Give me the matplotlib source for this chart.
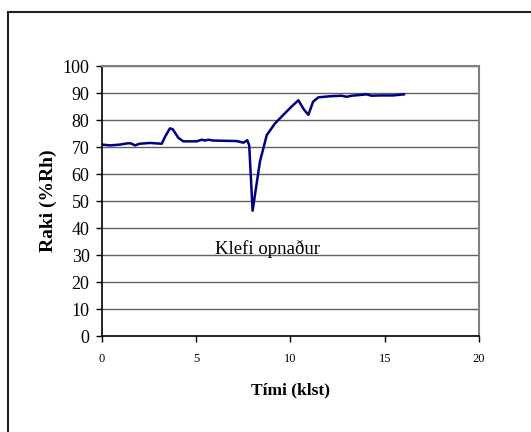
import matplotlib
matplotlib.use("Agg")
import matplotlib.pyplot as plt
from matplotlib.lines import Line2D

# humidity in the cabinet over time
time_h = [0.0, 0.42, 0.95, 1.4, 1.55, 1.75, 1.98, 2.55, 3.17, 3.34, 3.6, 3.75,
          4.05, 4.31, 5.02, 5.29, 5.46, 5.64, 5.9, 7.15, 7.5, 7.71, 7.81, 7.99,
          8.38, 8.74, 9.18, 9.62, 10.06, 10.42, 10.7, 10.95, 11.2, 11.48, 12.1,
          12.7, 12.98, 13.25, 14.04, 14.3, 14.75, 15.45, 16.02]
humidity = [70.9, 70.6, 70.9, 71.4, 71.3, 70.6, 71.2, 71.5, 71.2, 73.7, 76.9, 76.6,
            73.4, 72.1, 72.1, 72.7, 72.4, 72.7, 72.4, 72.2, 71.6, 72.5, 70.6, 46.4,
            64.6, 74.4, 78.75, 81.9, 85.0, 87.3, 84.0, 81.9, 86.8, 88.4, 88.8,
            89.0, 88.6, 89.0, 89.5, 89.0, 89.1, 89.1, 89.5]

yticks = list(range(0, 101, 10))
xticks = [0, 5, 10, 15, 20]

serif = ["Liberation Serif", "DejaVu Serif"]

fig = plt.figure(figsize=(5.31, 4.32), dpi=100)
ax = fig.add_axes([0.1921, 0.2222, 0.7099, 0.625])

ax.plot(time_h, humidity, color="#000080", lw=1.8)
ax.set_xlim(0, 20)
ax.set_ylim(0, 100)
ax.set_xticks(xticks)
ax.set_yticks(yticks)
ax.yaxis.grid(True, color="#606060", lw=1.0)
ax.set_axisbelow(True)

for s in ["top", "right"]:
    ax.spines[s].set_color("#808080")
    ax.spines[s].set_linewidth(1.5)
for s in ["left", "bottom"]:
    ax.spines[s].set_color("black")
    ax.spines[s].set_linewidth(1.2)

ax.tick_params(axis="y", direction="out", length=4, width=1, pad=5)
ax.tick_params(axis="x", direction="out", length=4, width=1, pad=8)
for lab in ax.get_yticklabels():
    lab.set_fontfamily(serif)
    lab.set_fontsize(13)
for lab in ax.get_xticklabels():
    lab.set_fontfamily(serif)
    lab.set_fontsize(9)

ax.set_ylabel("Raki (%Rh)", family=serif, fontsize=14, fontweight="bold", labelpad=4)
ax.set_xlabel("Tími (klst)", family=serif, fontsize=12.5, fontweight="bold", labelpad=13)

ax.text(6.0, 30.5, "Klefi opnaður", family=serif, fontsize=13.5)

# outer frame (top and left only are visible)
fig.add_artist(Line2D([8/531, 1.0], [1 - 12/432, 1 - 12/432], color="#202020", lw=1.5,
                      transform=fig.transFigure))
fig.add_artist(Line2D([8/531, 8/531], [0.0, 1 - 12/432], color="#202020", lw=1.5,
                      transform=fig.transFigure))

fig.savefig("out.png", dpi=100)
